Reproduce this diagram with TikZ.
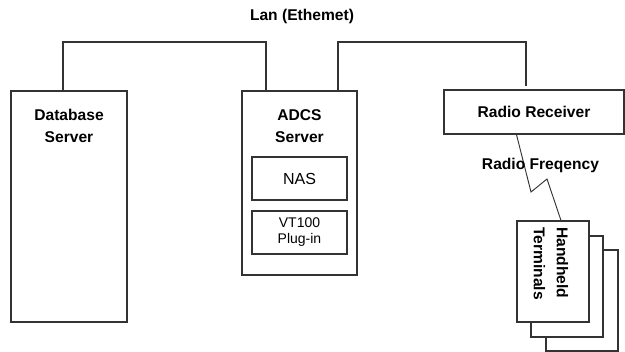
\documentclass[tikz,border=0pt]{standalone}
\usepackage{fontspec}
\setmainfont{Liberation Sans}
\begin{document}
\begin{tikzpicture}[x=0.75pt,y=-0.75pt,
  box/.style={draw=black!80,line width=0.8pt,fill=white,inner sep=0pt},
  lbl/.style={font=\fontsize{11.7}{16.5}\selectfont\bfseries,align=center,inner sep=0pt},
  wire/.style={draw=black!80,line width=0.8pt}]
\useasboundingbox (0,0) rectangle (625,352);
% title
\node[lbl] (lan) at (302,16) {Lan (Ethemet)};
% boxes
\node[box,minimum width=87pt,minimum height=173.25pt] (db) at (69,206.5) {};
\node[lbl] (dbt) at (69,126) {Database\\Server};
\node[box,minimum width=86.25pt,minimum height=138pt] (adcs) at (299.5,183) {};
\node[lbl] (adcst) at (299.5,126) {ADCS\\Server};
\node[box,minimum width=71.25pt,minimum height=32.25pt,font=\fontsize{12}{14}\selectfont] (nas) at (299.5,178.5) {NAS};
\node[box,minimum width=71.25pt,minimum height=32.25pt,align=center,font=\fontsize{10.5}{12}\selectfont] (vt) at (299.5,232.5) {VT100\\Plug-in};
\node[box,minimum width=135pt,minimum height=33pt,font=\fontsize{11.7}{14}\selectfont\bfseries] (rr) at (534,112) {Radio Receiver};
% terminals stack
\node[box,minimum width=54pt,minimum height=75.75pt] (t3) at (582,300.5) {};
\node[box,minimum width=54pt,minimum height=75.75pt] (t2) at (567,286.5) {};
\node[box,minimum width=54pt,minimum height=75.75pt] (t1) at (553,271.5) {};
\node[lbl,rotate=-90,align=left,anchor=north west,font=\fontsize{11.7}{17.25}\selectfont\bfseries] (tt) at (568.5,227) {Handheld\\Terminals};
% LAN connectors
\coordinate (c0) at (63,42);
\coordinate (c1) at (266,42);
\coordinate (c2) at (338,42);
\coordinate (c3) at (526,42);
\coordinate (c4) at (526,86);
\draw[wire] (c0 |- db.north) -- (c0) -- (c1) -- (c1 |- adcs.north);
\draw[wire] (c2 |- adcs.north) -- (c2) -- (c3) -- (c4);
% radio link
\coordinate (z1) at (531,192);
\coordinate (z2) at (547,179);
\draw[wire,line width=0.7pt] ([xshift=54.75pt]rr.south west) -- (z1) -- (z2) -- ([xshift=6pt]t1.north);
\node[lbl] (rf) at (540.5,165) {Radio Freqency};
\end{tikzpicture}
\end{document}
